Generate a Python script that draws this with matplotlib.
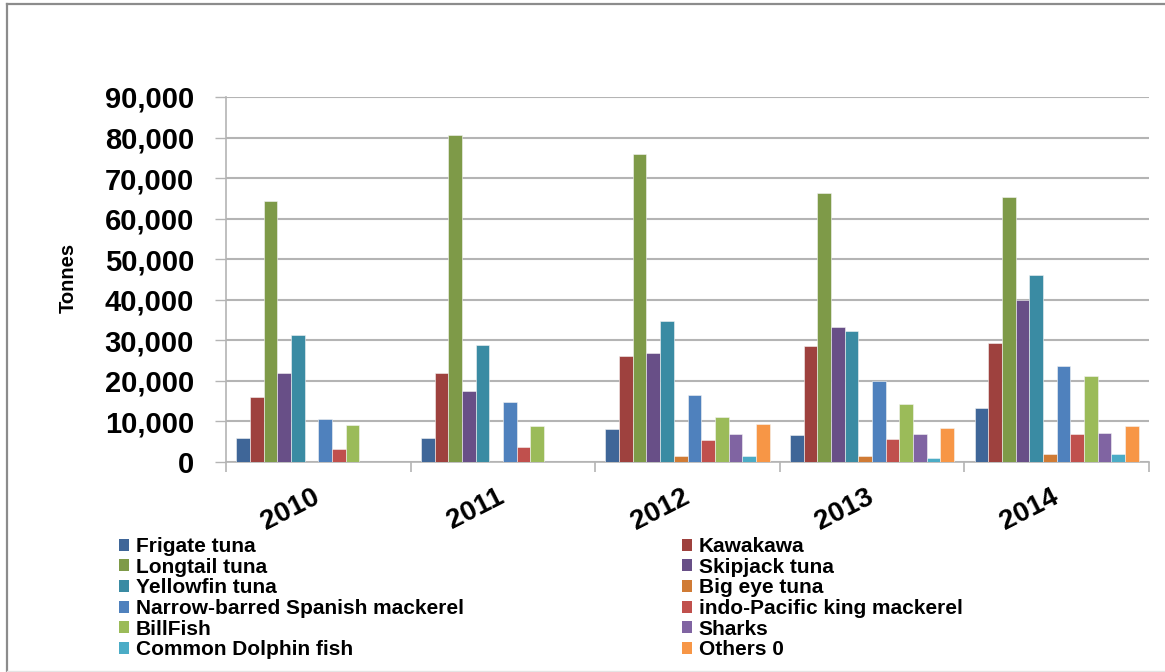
import numpy as np
import matplotlib.pyplot as plt
from matplotlib.patches import Patch
from matplotlib.lines import Line2D

plt.rcParams['font.family'] = ['Liberation Sans', 'DejaVu Sans']
plt.rcParams['font.weight'] = 'bold'

# === DATA (tonnes per year) ===
years = ['2010', '2011', '2012', '2013', '2014']
species = ['Frigate tuna', 'Kawakawa', 'Longtail tuna', 'Skipjack tuna',
           'Yellowfin tuna', 'Big eye tuna', 'Narrow-barred Spanish mackerel',
           'indo-Pacific king mackerel', 'BillFish', 'Sharks',
           'Common Dolphin fish', 'Others 0']

frigate_tuna = [6000, 6000, 8100, 6700, 13200]
kawakawa = [16100, 22000, 26200, 28600, 29300]
longtail_tuna = [64300, 80700, 76000, 66400, 65300]
skipjack_tuna = [22000, 17400, 27000, 33200, 39900]
yellowfin_tuna = [31400, 28800, 34800, 32200, 46200]
big_eye_tuna = [0, 0, 1600, 1600, 2050]
spanish_mackerel = [10600, 14800, 16400, 20000, 23700]
king_mackerel = [3100, 3700, 5500, 5750, 6800]
billfish = [9100, 8800, 11100, 14400, 21300]
sharks = [0, 0, 7000, 6800, 7100]
dolphin_fish = [0, 0, 1600, 1100, 1900]
others = [0, 0, 9400, 8500, 8900]

series = [frigate_tuna, kawakawa, longtail_tuna, skipjack_tuna, yellowfin_tuna,
          big_eye_tuna, spanish_mackerel, king_mackerel, billfish, sharks,
          dolphin_fish, others]

colors = ['#3F6698', '#9E413E', '#7E9A48', '#684F87', '#3A8BA3', '#D07B35',
          '#4F81BD', '#C0504D', '#9BBB59', '#8064A2', '#4BACC6', '#F79646']

W, H = 1165, 672
fig = plt.figure(figsize=(W / 100, H / 100), dpi=100)
ax = fig.add_axes([226 / W, 1 - 462 / H, (1149 - 226) / W, (462 - 97) / H])

# === BARS ===
x = np.arange(len(years))
n = len(series)
bw = 1 / (n + 1.5)
for i, (vals, c) in enumerate(zip(series, colors)):
    ax.bar(x + (i - (n - 1) / 2) * bw, vals, width=bw, color=c,
           edgecolor='#f4f4f4', linewidth=0.4, zorder=3)

# === AXES ===
grid_c = '#b4b4b4'
ax.set_xlim(-0.5, len(years) - 0.5)
ax.set_ylim(0, 90000)
ax.set_yticks(np.arange(0, 90001, 10000))
ax.set_yticklabels([f'{v:,}' for v in range(0, 90001, 10000)],
                   fontsize=21, fontweight='bold')
ax.yaxis.grid(True, color=grid_c, linewidth=1.5, zorder=0)
ax.tick_params(axis='y', length=8, width=1, color=grid_c, pad=15)

ax.set_xticks(x)
ax.set_xticklabels(years, fontsize=20, fontweight='bold', rotation=27,
                   ha='right', va='center', rotation_mode='anchor')
ax.tick_params(axis='x', which='major', length=0, pad=24)
ax.set_xticks(np.arange(-0.5, len(years)), minor=True)
ax.tick_params(axis='x', which='minor', length=7, width=1.2, color=grid_c)

for side in ['top', 'right']:
    ax.spines[side].set_visible(False)
for side in ['left', 'bottom']:
    ax.spines[side].set_color(grid_c)
    ax.spines[side].set_linewidth(1.2)

fig.text(68 / W, 1 - 278 / H, 'Tonnes', rotation=90, fontsize=14.5,
         fontweight='bold', ha='center', va='center')

# === LEGEND (two columns, row-major order) ===
handles = [Patch(facecolor=c, edgecolor='none') for c in colors]
leg_kw = dict(frameon=False, handlelength=0.5, handleheight=0.5,
              handletextpad=0.3, labelspacing=0.08, borderpad=0, borderaxespad=0,
              prop={'weight': 'bold', 'size': 15})
fig.legend(handles[0::2], species[0::2], loc='upper left',
           bbox_to_anchor=(119 / W, 1 - 537 / H), **leg_kw)
fig.legend(handles[1::2], species[1::2], loc='upper left',
           bbox_to_anchor=(682 / W, 1 - 537 / H), **leg_kw)

# === OUTER FRAME ===
frame_c = '#8c8c8c'
fig.add_artist(Line2D([7 / W, 7 / W], [0, 1 - 4 / H], color=frame_c, linewidth=1.6))
fig.add_artist(Line2D([7 / W, 1], [1 - 4 / H, 1 - 4 / H], color=frame_c, linewidth=1.6))
fig.add_artist(Line2D([7 / W, 1], [1 / H, 1 / H], color='#e4e4e4', linewidth=1))

fig.savefig('out.png', dpi=100)
